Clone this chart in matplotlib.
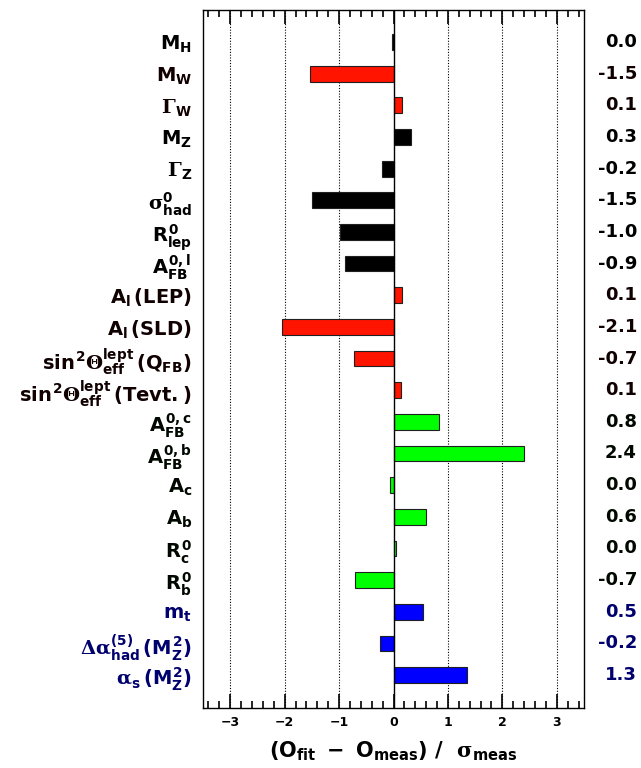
import matplotlib
matplotlib.use("Agg")
import matplotlib.pyplot as plt
from matplotlib.ticker import MultipleLocator
from matplotlib.transforms import blended_transform_factory

plt.rcParams['font.family'] = ['DejaVu Sans']
plt.rcParams['font.weight'] = 'bold'
plt.rcParams['mathtext.fontset'] = 'custom'
plt.rcParams['mathtext.rm'] = 'DejaVu Sans:bold'
plt.rcParams['mathtext.it'] = 'DejaVu Sans:bold'
plt.rcParams['mathtext.bf'] = 'DejaVu Sans:bold'
plt.rcParams['mathtext.sf'] = 'DejaVu Serif'

# ---- data ----
labels = [
    r'$M_{H}$',
    r'$M_{W}$',
    r'$\mathsf{\Gamma}_{W}$',
    r'$M_{Z}$',
    r'$\mathsf{\Gamma}_{Z}$',
    r'$\mathsf{\sigma}^{0}_{had}$',
    r'$R^{0}_{lep}$',
    r'$A^{0,l}_{FB}$',
    r'$A_{l}\,(LEP)$',
    r'$A_{l}\,(SLD)$',
    r'$sin^{2}\mathsf{\Theta}^{lept}_{eff}\,(Q_{FB})$',
    r'$sin^{2}\mathsf{\Theta}^{lept}_{eff}\,(Tevt.)$',
    r'$A^{0,c}_{FB}$',
    r'$A^{0,b}_{FB}$',
    r'$A_{c}$',
    r'$A_{b}$',
    r'$R^{0}_{c}$',
    r'$R^{0}_{b}$',
    r'$m_{t}$',
    r'$\mathsf{\Delta\alpha}^{(5)}_{had}\,(M^{2}_{Z})$',
    r'$\mathsf{\alpha}_{s}\,(M^{2}_{Z})$',
]
pulls = [-0.02, -1.54, 0.15, 0.33, -0.22, -1.50, -0.99, -0.90, 0.15, -2.05,
         -0.72, 0.14, 0.84, 2.39, -0.07, 0.60, 0.05, -0.70, 0.55, -0.24, 1.35]
value_text = ['0.0', '-1.5', '0.1', '0.3', '-0.2', '-1.5', '-1.0', '-0.9', '0.1', '-2.1',
              '-0.7', '0.1', '0.8', '2.4', '0.0', '0.6', '0.0', '-0.7', '0.5', '-0.2', '1.3']
groups = ['k', 'r', 'r', 'k', 'k', 'k', 'k', 'k', 'r', 'r',
          'r', 'r', 'g', 'g', 'g', 'g', 'g', 'g', 'b', 'b', 'b']
xticks = [-3, -2, -1, 0, 1, 2, 3]
xticklabels = ['\u22123', '\u22122', '\u22121', '0', '1', '2', '3']
minor_step = 0.2

fill = {'k': '#000000', 'r': '#ff1400', 'g': '#00ff00', 'b': '#0000ff'}
txtcol = {'k': '#000000', 'r': '#100000', 'g': '#000800', 'b': '#00006e'}

fig = plt.figure(figsize=(6.41, 7.68), dpi=100)
ax = fig.add_axes([203/641, 60/768, 381/641, 698/768])

n = len(labels)
ypos = list(range(n))
ax.barh(ypos, pulls, height=0.5, color=[fill[g] for g in groups],
        edgecolor='#202020', linewidth=0.8, zorder=3)

ax.set_xlim(-3.5, 3.5)
ax.set_ylim(n - 1 + 1.04, -1.01)

for x in xticks:
    if x != 0:
        ax.axvline(x, color='black', linestyle=(0, (1, 1.5)), linewidth=0.8, zorder=1)
ax.axvline(0, color='black', linewidth=1.0, zorder=4)

ax.set_xticks(xticks)
ax.set_xticklabels(xticklabels, fontsize=9, fontweight='bold')
ax.set_xticks([v * minor_step for v in range(-17, 18)], minor=True)
ax.xaxis.set_ticks_position('both')
ax.tick_params(axis='x', which='major', direction='in', length=10, width=1.2,
               colors='black', labelcolor='black', pad=6, top=True, bottom=True,
               labelbottom=True, labeltop=False)
ax.tick_params(axis='x', which='minor', direction='in', length=5, width=1.2,
               colors='black', top=True, bottom=True)

ax.set_yticks(ypos)
ax.set_yticklabels(labels, fontsize=14)
ax.tick_params(axis='y', which='both', length=0, pad=8)
for lab, g in zip(ax.get_yticklabels(), groups):
    lab.set_color(txtcol[g])

trans = blended_transform_factory(ax.transAxes, ax.transData)
for y, s, g in zip(ypos, value_text, groups):
    ax.text(1.139, y, s, transform=trans, ha='right', va='center',
            fontsize=13, fontweight='bold', color=txtcol[g])

for sp in ax.spines.values():
    sp.set_linewidth(1.0)

ax.set_xlabel(r'$(O_{fit}\ -\ O_{meas})\ /\ \ \mathsf{\sigma}_{meas}$', fontsize=15, labelpad=7)

fig.savefig('out.png', dpi=100)
